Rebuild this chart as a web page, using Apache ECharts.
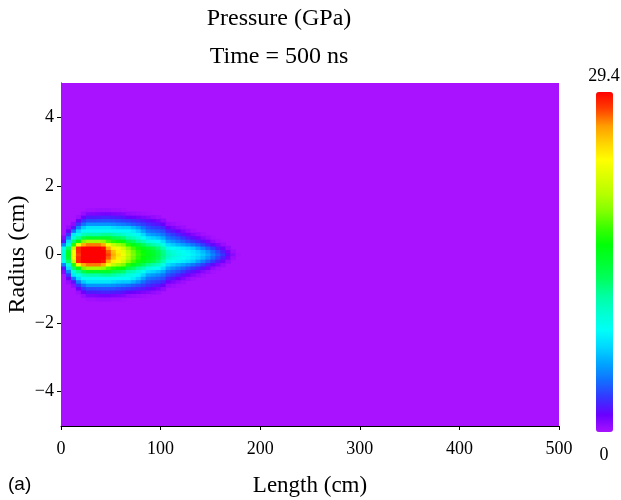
<!DOCTYPE html>
<html><head><meta charset="utf-8">
<script src="https://cdn.jsdelivr.net/npm/echarts@6/dist/echarts.min.js"></script>
<style>html,body{margin:0;padding:0;background:#fff}#chart{width:621px;height:500px}</style>
</head><body><div id="chart"></div>
<script>
const titleLines = ['Pressure (GPa)', 'Time = 500 ns'];
const xAxisName = 'Length (cm)';
const yAxisName = 'Radius (cm)';
const panelLabel = '(a)';
const lengthRange = [0, 500];
const radiusRange = [-5, 5];
const xTickValues = [0, 100, 200, 300, 400, 500];
const yTickValues = [-4, -2, 0, 2, 4];
const pressureRange = [0, 29.4];
const colorbarLabels = ['29.4', '0'];
// cell centres along the length (cm); each cell is 5 cm long
const lengthCenters = [2.5, 7.5, 12.5, 17.5, 22.5, 27.5, 32.5, 37.5, 42.5, 47.5, 52.5, 57.5,
  62.5, 67.5, 72.5, 77.5, 82.5, 87.5, 92.5, 97.5, 102.5, 107.5, 112.5, 117.5,
  122.5, 127.5, 132.5, 137.5, 142.5, 147.5, 152.5, 157.5, 162.5, 167.5, 172.5, 177.5];
// radius levels (cm) of the upper half; the field is mirrored about r = 0
const radiusLevels = [0, 0.1, 0.2, 0.3, 0.4, 0.5, 0.6, 0.7, 0.8, 0.9, 1.0, 1.1, 1.2, 1.3, 1.4];
// pressure (GPa) per length column, listed from r = 0 outward; missing values are 0
const pressureColumns = [
  [10, 10, 9, 5, 2, 0.8],
  [15.5, 15, 13, 10, 7.5, 5, 3, 1.5, 0.4],
  [23, 23, 21, 17, 13, 10, 8, 4.5, 2, 0.6],
  [28, 28.5, 28.5, 23, 16, 12, 9.5, 7.5, 5, 3, 1.5, 0.3],
  [29.4, 29.4, 29.4, 26, 19, 14, 11, 8.7, 7, 4.5, 2.8, 1.4, 0.4],
  [29.4, 29.4, 29.4, 27, 20, 15, 11.5, 9, 8, 5.5, 3.5, 2.2, 1, 0.2],
  [29.4, 29.4, 29.4, 27, 20, 15, 11.5, 9, 8, 5.5, 3.5, 2.2, 1, 0.2],
  [29.4, 29.4, 29.4, 27, 20, 15, 11.5, 9, 8, 5.5, 3.6, 2.3, 1.1, 0.3],
  [29.4, 29.4, 29, 26, 19.5, 15, 12, 9, 8, 5.5, 3.7, 2.4, 1.2, 0.3],
  [28, 27.5, 26, 23, 18, 15, 12, 9, 8, 5.5, 3.7, 2.4, 1.2, 0.3],
  [26, 25.5, 24, 21, 17, 14, 11.5, 9, 7.5, 5.3, 3.6, 2.3, 1.1, 0.2],
  [24.5, 24, 23, 20, 16.5, 13.5, 11, 8.8, 7.2, 5, 3.4, 2.2, 1, 0.2],
  [23, 22.5, 21.5, 19, 16, 13, 10.5, 8.7, 7, 4.8, 3.2, 2, 0.9, 0.1],
  [21, 20.5, 19.5, 17, 14, 11.5, 9.8, 8.7, 7, 4.5, 3, 1.6, 0.5],
  [19, 18.7, 17.8, 15.8, 13.2, 11, 9.3, 8.2, 6.3, 4, 2.7, 1.4, 0.4],
  [17.6, 17.3, 16.6, 14.8, 12, 10, 8.6, 7.2, 5.5, 3.6, 2.4, 1.2, 0.3],
  [16.6, 16.3, 15.6, 13.5, 11, 9, 7.4, 5.9, 4.5, 3.2, 2.1, 1, 0.2],
  [15.8, 15.5, 14.8, 12.3, 9.8, 7.8, 6, 4.7, 3.6, 2.7, 1.8, 0.8, 0.1],
  [15, 14.7, 14, 11.5, 9.2, 7.3, 5.6, 4.3, 3.2, 2.3, 1.4, 0.5],
  [14, 13.7, 12.8, 10.8, 8.8, 6.8, 5.2, 4, 3, 2, 1.1, 0.3],
  [12.5, 12.2, 11.3, 9.5, 7.6, 6, 4.6, 3.6, 2.5, 1.5, 0.6],
  [11, 10.6, 9.3, 7.6, 6, 4.6, 3.6, 2.5, 1.4, 0.5],
  [10.2, 9.8, 8.8, 7, 5.4, 4.1, 3.1, 2, 1, 0.3],
  [9.6, 9.3, 8.5, 6.4, 4.8, 3.6, 2.5, 1.5, 0.6, 0.1],
  [9.2, 8.9, 8.1, 5.9, 4.2, 3, 1.9, 1, 0.3],
  [8.8, 8.5, 7.6, 5.3, 3.5, 2.3, 1.3, 0.5],
  [8.3, 8, 7, 4.7, 3, 1.8, 0.9, 0.2],
  [7.7, 7.3, 6, 4, 2.5, 1.3, 0.5],
  [7, 6.5, 5, 3.2, 1.9, 0.8, 0.2],
  [6.1, 5.5, 4, 2.4, 1.2, 0.4],
  [5, 4.4, 3.1, 1.7, 0.6, 0.1],
  [4, 3.4, 2.2, 1, 0.2],
  [2.9, 2.3, 1.3, 0.4],
  [1.8, 1.2, 0.5],
  [0.7, 0.3],
  [0.1]
];
const rainbow = ['#a812ff', '#6a00ff', '#3535ff', '#126eff', '#00a4ff', '#00d7ff', '#00fff7',
  '#00ffd0', '#00ffa2', '#00ff5e', '#00ff30', '#00ff08', '#3aff00', '#83ff00', '#b6ff00',
  '#daff00', '#ffff00', '#ffd300', '#ff9d00', '#ff4000', '#ff0000'];

const halfLen = 2.5, halfRad = 0.05;
const cells = [[lengthRange[0], lengthRange[1], radiusRange[0], radiusRange[1], 0]];
lengthCenters.forEach(function (L, i) {
  pressureColumns[i].forEach(function (v, j) {
    const r = radiusLevels[j];
    cells.push([L - halfLen, L + halfLen, r - halfRad, r + halfRad, v]);
    if (r > 0) cells.push([L - halfLen, L + halfLen, -r - halfRad, -r + halfRad, v]);
  });
});

const serif = 'Liberation Serif';
const minusFmt = function (v) { return String(v).replace('-', '\u2212'); };
const chart = echarts.init(document.getElementById('chart'), null, {renderer: 'canvas'});
chart.setOption({
  animation: false,
  backgroundColor: '#fff',
  grid: {left: 61, top: 83, width: 498, height: 343, containLabel: false, outerBoundsMode: 'none'},
  xAxis: {
    type: 'value', min: lengthRange[0], max: lengthRange[1], interval: 100,
    name: xAxisName, nameLocation: 'middle', nameGap: 48, nameMoveOverlap: false,
    nameTextStyle: {fontFamily: serif, fontSize: 23, color: '#000'},
    axisLine: {show: true, onZero: false, lineStyle: {color: '#000', width: 1}},
    axisTick: {show: true, length: 4, customValues: xTickValues, lineStyle: {color: '#000'}},
    axisLabel: {fontFamily: serif, fontSize: 18, color: '#000', margin: 14, customValues: xTickValues},
    splitLine: {show: false}
  },
  yAxis: {
    type: 'value', min: radiusRange[0], max: radiusRange[1],
    name: yAxisName, nameLocation: 'middle', nameGap: 31, nameMoveOverlap: false,
    nameTextStyle: {fontFamily: serif, fontSize: 24, color: '#000'},
    axisLine: {show: true, onZero: false, lineStyle: {color: '#000', width: 1}},
    axisTick: {show: true, length: 4, customValues: yTickValues, lineStyle: {color: '#000'}},
    axisLabel: {fontFamily: serif, fontSize: 18, color: '#000', margin: 7, customValues: yTickValues, formatter: minusFmt},
    splitLine: {show: false}
  },
  visualMap: {
    type: 'continuous', min: pressureRange[0], max: pressureRange[1], dimension: 4, seriesIndex: 0,
    calculable: false, left: 596, top: 92, padding: 0, itemWidth: 17, itemHeight: 340,
    showLabel: false, text: null,
    inRange: {color: rainbow}
  },
  series: [{
    type: 'custom', data: cells, encode: {x: [0, 1], y: [2, 3]}, clip: true, silent: true,
    renderItem: function (params, api) {
      const p0 = api.coord([api.value(0), api.value(3)]);
      const p1 = api.coord([api.value(1), api.value(2)]);
      return {type: 'rect', shape: {x: p0[0], y: p0[1], width: p1[0] - p0[0] + 0.6, height: p1[1] - p0[1] + 0.6},
        style: {fill: api.visual('color')}};
    }
  }],
  graphic: [
    {type: 'text', x: 279, y: 19, style: {text: titleLines[0], font: '24px "Liberation Serif"', fill: '#000', textAlign: 'center', textVerticalAlign: 'middle'}},
    {type: 'text', x: 279, y: 57, style: {text: titleLines[1], font: '24px "Liberation Serif"', fill: '#000', textAlign: 'center', textVerticalAlign: 'middle'}},
    {type: 'text', x: 604, y: 76, style: {text: colorbarLabels[0], font: '18px "Liberation Serif"', fill: '#000', textAlign: 'center', textVerticalAlign: 'middle'}},
    {type: 'text', x: 604, y: 455, style: {text: colorbarLabels[1], font: '18px "Liberation Serif"', fill: '#000', textAlign: 'center', textVerticalAlign: 'middle'}},
    {type: 'text', x: 8, y: 485, style: {text: panelLabel, font: '19px "Liberation Sans"', fill: '#000', textAlign: 'left', textVerticalAlign: 'middle'}}
  ]
});
</script></body></html>
